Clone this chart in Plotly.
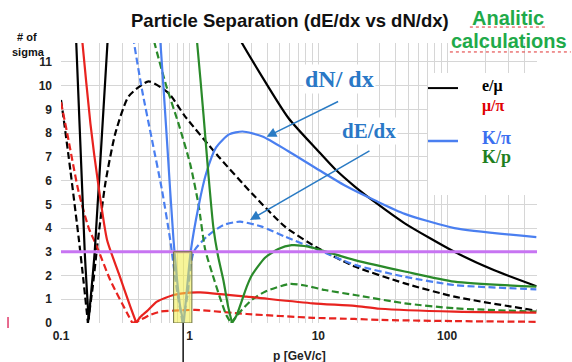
import math
import plotly.graph_objects as go

# ---------------- data (momentum p in GeV/c, separation in # of sigma) ----------------
X_TICKS = [0.1, 1, 10, 100]
X_TICK_LABELS = ["0.1", "1", "10", "100"]
Y_TICKS = list(range(0, 12))

# e/mu (black)
emu_dNdx_p = [0.1296, 0.1529, 0.1640, 0.1828, 0.2305, 0.2360, None,
              2.294, 2.464, 5.83, 9.96, 13.4, 19.2, 27.4, 46.9, 114, 233, 494]
emu_dNdx_s = [12.6, 3.0, 0.15, 3.0, 11.94, 12.55, None,
              12.3, 11.94, 8.65, 7.25, 6.5, 5.75, 5.1, 4.2, 3.0, 2.22, 1.55]
emu_dEdx_p = [0.1, 0.1051, 0.1185, 0.1378, 0.1494, 0.1619, 0.1771, 0.1918, 0.2213, 0.2646,
              0.3354, 0.4794, 0.685, 0.923, 1.672, 3.035, 5.50, 9.96, 19.2, 46.9, 114, 494]
emu_dEdx_s = [9.4, 8.57, 6.4, 3.5, 1.8, 0.0, 1.6, 3.3, 5.9, 8.0,
              9.55, 10.18, 9.69, 8.7, 7.02, 5.47, 4.06, 3.15, 2.38, 1.67, 1.11, 0.52]

# mu/pi (red)
mupi_dNdx_p = [0.1416, 0.146, 0.1693, 0.1953, 0.228, 0.2806, 0.3457, 0.3848, 0.4134, 0.4658,
               0.5567, 0.7489, 1.009, 1.206, 2.775, 9.06, 19.2, 30, 114, 494]
mupi_dNdx_s = [12.67, 11.94, 8.4, 5.8, 3.5, 2.1, 0.69, 0.0, 0.25, 0.5,
               0.9, 1.18, 1.28, 1.29, 1.11, 0.83, 0.72, 0.6, 0.48, 0.44]
mupi_dEdx_p = [0.1, 0.1117, 0.1374, 0.1643, 0.1908, 0.2418, 0.326, 0.3583, 0.4134, 0.494,
               0.5906, 0.7489, 1.103, 2.775, 9.11, 19.2, 30, 114, 494]
mupi_dEdx_s = [9.3, 8.0, 5.5, 4.0, 3.2, 1.8, 0.42, 0.0, 0.13, 0.34,
               0.48, 0.52, 0.55, 0.38, 0.22, 0.17, 0.13, 0.08, 0.05]

# K/pi (blue)
kpi_dNdx_p = [0.580, 0.5906, 0.6656, 0.7489, 0.8438, 0.8985, 0.9479, 1.018, 1.170, 1.342,
              1.605, 2.024, 2.575, 3.68, 5.80, 10.09, 16.63, 27.9, 46.9, 114, 494]
kpi_dNdx_s = [12.4, 11.94, 7.72, 3.5, 0.69, 0.0, 1.3, 3.0, 4.9, 6.3,
              7.4, 7.95, 8.07, 7.86, 7.25, 6.45, 5.75, 5.15, 4.6, 4.0, 3.62]
kpi_dEdx_p = [0.3583, 0.3666, 0.426, 0.5093, 0.6088, 0.7058, 0.7959, 0.8825, 0.9564, 1.074,
              1.359, 1.828, 2.464, 3.628, 5.50, 9.96, 19.2, 46.9, 114, 494]
kpi_dEdx_s = [12.5, 11.94, 9.83, 7.72, 5.61, 3.5, 1.39, 0.0, 1.1, 3.0,
              3.64, 4.13, 4.27, 4.06, 3.64, 3.08, 2.45, 1.95, 1.6, 1.42]

# K/p (green)
kp_dNdx_p = [1.103, 1.137, 1.279, 1.391, 1.53, 1.664, 1.828, 1.988, 2.135, 2.322,
             2.776, 3.035, 3.848, 4.88, 6.20, 8.34, 11.23, 19.2, 46.9, 114, 494]
kp_dNdx_s = [12.5, 11.94, 8.8, 6.4, 4.0, 2.8, 1.8, 0.7, 0.0, 0.34,
             1.53, 2.0, 2.75, 3.12, 3.28, 3.22, 3.02, 2.65, 2.17, 1.74, 1.53]
kp_dEdx_p = [0.512, 0.5334, 0.657, 0.8189, 1.009, 1.170, 1.319, 1.494, 1.724, 1.919,
             2.097, 2.539, 3.035, 3.848, 6.01, 7.86, 11.23, 19.2, 46.9, 114, 494]
kp_dEdx_s = [12.3, 11.8, 10.0, 8.4, 6.7, 5.0, 3.1, 2.1, 1.05, 0.35,
             0.0, 0.55, 0.97, 1.32, 1.65, 1.58, 1.39, 1.18, 0.83, 0.62, 0.48]

THRESHOLD = 3  # 3 sigma line
P_MIN, P_MAX = 0.1, 500
HIGHLIGHT_P = (0.75, 1.04)  # yellow band around the K/pi dN/dx zero

BLACK, RED, BLUE, GREEN = "#000000", "#e8231f", "#4a7ff0", "#2a8a2a"
DASH = "7px,3.5px"


def segments(xs, ys):
    pieces, cx, cy = [], [], []
    for x, y in zip(xs, ys):
        if x is None:
            if cx:
                pieces.append((cx, cy))
            cx, cy = [], []
            continue
        cx.append(x)
        cy.append(y)
    if cx:
        pieces.append((cx, cy))
    out = []
    for sx, sy in pieces:
        start = 0
        for i in range(1, len(sy) - 1):
            if sy[i] <= 0.2 and sy[i] < sy[i - 1] and sy[i] < sy[i + 1]:
                out.append((sx[start:i + 1], sy[start:i + 1]))
                start = i
        out.append((sx[start:], sy[start:]))
    return out


fig = go.Figure()

series = [
    (emu_dEdx_p, emu_dEdx_s, BLACK, DASH),
    (mupi_dEdx_p, mupi_dEdx_s, RED, DASH),
    (kpi_dEdx_p, kpi_dEdx_s, BLUE, DASH),
    (kp_dEdx_p, kp_dEdx_s, GREEN, DASH),
    (emu_dNdx_p, emu_dNdx_s, BLACK, "solid"),
    (mupi_dNdx_p, mupi_dNdx_s, RED, "solid"),
    (kpi_dNdx_p, kpi_dNdx_s, BLUE, "solid"),
    (kp_dNdx_p, kp_dNdx_s, GREEN, "solid"),
]
for xs, ys, col, dash in series:
    for sx, sy in segments(xs, ys):
        fig.add_trace(go.Scatter(
            x=sx, y=sy, mode="lines",
            line=dict(color=col, width=2.2, dash=dash, shape="spline", smoothing=0.6),
            hoverinfo="skip"))

fig.add_trace(go.Scatter(x=[P_MIN, P_MAX], y=[THRESHOLD, THRESHOLD], mode="lines",
                         line=dict(color="#c774f2", width=3), hoverinfo="skip"))

# grid values: every 1..9 x decade
grid_vals, grid_text = [], []
for d in range(-1, 3):
    for m in range(1, 10):
        v = round(m * 10 ** d, 6)
        if v > P_MAX:
            break
        grid_vals.append(v)
        grid_text.append(X_TICK_LABELS[X_TICKS.index(v)] if v in X_TICKS else "")

fig.update_layout(
    width=572, height=362,
    margin=dict(l=61, r=35, t=43, b=39),
    paper_bgcolor="white", plot_bgcolor="white",
    showlegend=False,
    font=dict(family="Liberation Sans, Arial, sans-serif", color="#111"),
    xaxis=dict(type="log", range=[math.log10(P_MIN), math.log10(P_MAX)],
               tickvals=grid_vals, ticktext=grid_text, showgrid=True,
               gridcolor="#d6d6d6", gridwidth=1, zeroline=False, showline=False,
               ticks="", ticklabelstandoff=4, automargin=False,
               tickfont=dict(size=12, weight="bold", color="#222")),
    yaxis=dict(range=[0, 11.8], tickvals=Y_TICKS, showgrid=True,
               gridcolor="#d6d6d6", gridwidth=1, zeroline=False, showline=False,
               ticks="", ticklabelstandoff=8, automargin=False,
               tickfont=dict(size=12, weight="bold", color="#222")),
)

shapes = [
    # highlight band
    dict(type="rect", xref="x", yref="y", x0=HIGHLIGHT_P[0], x1=HIGHLIGHT_P[1], y0=0, y1=THRESHOLD,
         fillcolor="rgba(240,236,70,0.55)", line=dict(color="#6b7040", width=1), layer="above"),
    # white legend panel
    dict(type="rect", xref="paper", yref="paper", x0=0.771, x1=1.01, y0=0.457, y1=0.893,
         fillcolor="white", line=dict(width=0), layer="above"),
    dict(type="line", xref="paper", yref="paper", x0=0.771, x1=0.834, y0=0.839, y1=0.839,
         line=dict(color=BLACK, width=2), layer="above"),
    dict(type="line", xref="paper", yref="paper", x0=0.771, x1=0.834, y0=0.65, y1=0.65,
         line=dict(color=BLUE, width=2.5), layer="above"),
    # marker line below the axis at the K/pi crossing
    dict(type="line", xref="paper", yref="paper", x0=0.2566, x1=0.2566, y0=0, y1=-0.15,
         line=dict(color="#111", width=1.5)),
    dict(type="line", xref="paper", yref="paper", x0=-0.1113, x1=-0.1113, y0=0.021, y1=-0.018,
         line=dict(color="#e03a6a", width=1.5)),
    # spell-check style underlines
    dict(type="line", xref="paper", yref="paper", x0=0.859, x1=1.023, y0=1.057, y1=1.057,
         line=dict(color="#e03030", width=1, dash="dot")),
    dict(type="line", xref="paper", yref="paper", x0=0.817, x1=1.071, y0=0.968, y1=0.968,
         line=dict(color="#e03030", width=1, dash="dot")),
]
fig.update_layout(shapes=shapes)

SERIF = "Liberation Serif, Times New Roman, serif"
ann = [
    dict(text="<b>Particle Separation (dE/dx vs dN/dx)</b>", x=0.481, y=1.0786,
         font=dict(size=18.5, color="#111")),
    dict(text="<b>Analitic</b>", x=0.940, y=1.089, font=dict(size=20, color="#1faa4a")),
    dict(text="<b>calculations</b>", x=0.941, y=1.007, font=dict(size=20, color="#1faa4a")),
    dict(text="<b># of</b>", x=-0.0704, y=1.0214, font=dict(size=11, color="#111")),
    dict(text="<b>sigma</b>", x=-0.0683, y=0.968, font=dict(size=11, color="#111")),
    dict(text="<b>p [GeV/c]</b>", x=0.5, y=-0.118, font=dict(size=12, color="#222")),
    dict(text="<b>dN/ dx</b>", x=0.586, y=0.871, bgcolor="white",
         font=dict(size=24, color="#2a78c6", family=SERIF)),
    dict(text="<b>dE/dx</b>", x=0.647, y=0.686, bgcolor="white",
         font=dict(size=21, color="#2a78c6", family=SERIF)),
    dict(text="<b>e/μ</b>", x=0.880, y=0.845, xanchor="left",
         font=dict(size=16, color="#000", family=SERIF)),
    dict(text="<b>μ/π</b>", x=0.880, y=0.775, xanchor="left",
         font=dict(size=16, color="#e00000", family=SERIF)),
    dict(text="<b>K/π</b>", x=0.880, y=0.661, xanchor="left",
         font=dict(size=18, color="#3b6ff0", family=SERIF)),
    dict(text="<b>K/p</b>", x=0.880, y=0.592, xanchor="left",
         font=dict(size=18, color="#1f7f1f", family=SERIF)),
]
for a in ann:
    a.setdefault("xanchor", "center")
    fig.add_annotation(xref="paper", yref="paper", yanchor="middle", showarrow=False, **a)

# arrows
for hx, hy, ax, ay in [(0.432, 0.665, 73, -36), (0.397, 0.368, 121, -70)]:
    fig.add_annotation(xref="paper", yref="paper", x=hx, y=hy, ax=ax, ay=ay, text="",
                       showarrow=True, arrowhead=2, arrowsize=1.3, arrowwidth=1.5,
                       arrowcolor="#2a7bc4")

fig.write_html("out.html", config={"displayModeBar": False},
               post_script="document.body.style.margin='0px';")
